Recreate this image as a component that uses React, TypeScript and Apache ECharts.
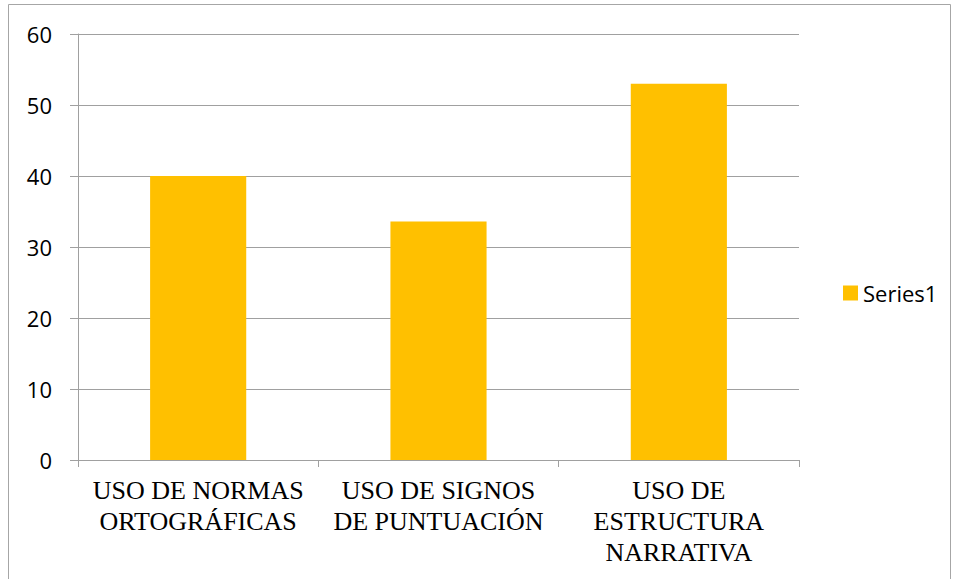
import React, { useEffect, useRef } from "react";
import * as echarts from "echarts";

const categories = [
  "USO DE NORMAS\nORTOGRÁFICAS",
  "USO DE SIGNOS\nDE PUNTUACIÓN",
  "USO DE\nESTRUCTURA\nNARRATIVA",
];
const series1 = [40, 33.6, 53];
const seriesName = "Series1";

const SERIF = "Liberation Serif";
const SANS = "Open Sans";

export default function App() {
  const ref = useRef<HTMLDivElement>(null);
  useEffect(() => {
    if (!ref.current) return;
    const chart = echarts.init(ref.current, null, { renderer: "svg" });
    chart.setOption({
      animation: false,
      backgroundColor: "#ffffff",
      textStyle: { fontFamily: SANS },
      graphic: [
        {
          type: "rect",
          shape: { x: 8.5, y: 4.5, width: 942, height: 590 },
          style: { fill: "none", stroke: "#A6A6A6", lineWidth: 1 },
          silent: true,
        },
      ],
      grid: { left: 78, top: 34, right: 159, bottom: 119, containLabel: false },
      legend: {
        data: [seriesName],
        orient: "vertical",
        left: 843,
        top: 282,
        padding: 0,
        icon: "rect",
        itemWidth: 15,
        itemHeight: 15,
        itemGap: 6,
        textStyle: { fontFamily: SANS, fontSize: 22, color: "#000" },
      },
      xAxis: {
        type: "category",
        data: categories,
        axisLine: { show: true, lineStyle: { color: "#A0A0A0", width: 1 } },
        axisTick: { show: true, alignWithLabel: false, length: 7, lineStyle: { color: "#A0A0A0" } },
        axisLabel: {
          interval: 0,
          margin: 15,
          formatter: (v: string) => "{a|" + v.split("\n").join("}\n{a|") + "}",
          rich: {
            a: {
              fontFamily: SERIF,
              fontSize: 26,
              lineHeight: 31,
              color: "#000",
            },
          },
        },
      },
      yAxis: {
        type: "value",
        min: 0,
        max: 60,
        interval: 10,
        axisLine: { show: true, lineStyle: { color: "#A0A0A0", width: 1 } },
        axisTick: { show: true, length: 8, lineStyle: { color: "#A0A0A0" } },
        splitLine: { show: true, lineStyle: { color: "#A0A0A0", width: 1 } },
        axisLabel: {
          margin: 26,
          fontFamily: SANS,
          fontSize: 22,
          color: "#000",
        },
      },
      series: [
        {
          name: seriesName,
          type: "bar",
          data: series1,
          barWidth: "40%",
          itemStyle: { color: "#FFC000" },
        },
      ],
    });
    return () => chart.dispose();
  }, []);
  return (
    <div
      ref={ref}
      style={{ position: "absolute", left: 0, top: 0, width: 958, height: 579 }}
    />
  );
}
